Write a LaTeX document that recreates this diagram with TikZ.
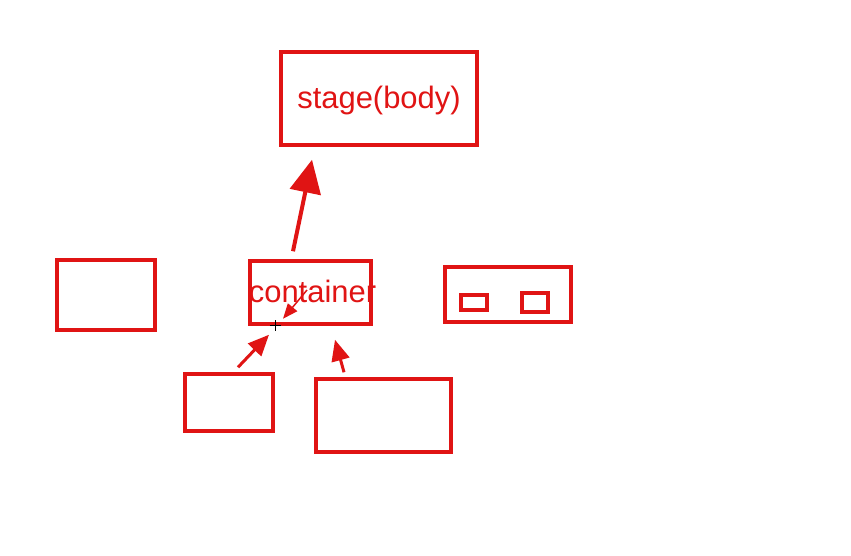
\documentclass[tikz,border=0pt]{standalone}
\usepackage{fontspec}
\setmainfont{Liberation Sans}
\usetikzlibrary{arrows.meta}
\definecolor{rougeVif}{RGB}{224,20,20}

\begin{document}
\begin{tikzpicture}
    		\tikzstyle{rougeCadre}=[draw=rougeVif, line width=0.07cm, inner sep=0pt]
    		\tikzstyle{texteRouge}=[text=rougeVif, font=\fontsize{17.6}{20}\selectfont, inner sep=0pt]
    		\tikzstyle{grosseFleche}=[rougeVif, line width=0.08cm, -{Triangle[length=0.66cm, width=0.62cm]}]
    		\tikzstyle{flecheRouge}=[rougeVif, line width=0.06cm, -{Triangle[length=0.42cm, width=0.36cm]}]
    		\tikzstyle{petiteFleche}=[rougeVif, line width=0.03cm, -{Triangle[length=0.3cm, width=0.24cm]}]

    		\useasboundingbox (0,0) rectangle (17.02,-11.1);
    		% upper area
    		\node [rougeCadre, minimum width=3.92cm, minimum height=1.86cm] (stage) at (7.58,-1.97) {};
    		\node [texteRouge, anchor=base] (stageTexte) at (7.58,-2.16) {stage(body)};
    		% middle row
    		\node [rougeCadre, minimum width=1.96cm, minimum height=1.4cm] (gauche) at (2.12,-5.9) {};
    		\node [rougeCadre, minimum width=2.42cm, minimum height=1.26cm] (container) at (6.21,-5.85) {};
    		\node [texteRouge, anchor=base] (containerTexte) at (6.25,-6.04) {container};
    		\node [rougeCadre, minimum width=2.52cm, minimum height=1.1cm] (droite) at (10.16,-5.89) {};
    		\node [rougeCadre, line width=0.065cm, minimum width=0.52cm, minimum height=0.3cm] (petitA) at (9.48,-6.05) {};
    		\node [rougeCadre, line width=0.065cm, minimum width=0.52cm, minimum height=0.38cm] (petitB) at (10.70,-6.05) {};
    		% lower row
    		\node [rougeCadre, minimum width=1.76cm, minimum height=1.14cm] (basGauche) at (4.58,-8.05) {};
    		\node [rougeCadre, minimum width=2.7cm, minimum height=1.46cm] (basDroite) at (7.67,-8.31) {};
    		% arrows
    		\draw [grosseFleche] ([xshift=-0.35cm, yshift=0.16cm]container.north) -- ([xshift=-1.34cm, yshift=-0.26cm]stage.south);
    		\draw [flecheRouge] ([xshift=0.18cm, yshift=0.1cm]basGauche.north) -- ([xshift=-0.83cm, yshift=-0.18cm]container.south);
    		\draw [flecheRouge] ([xshift=-0.79cm, yshift=0.1cm]basDroite.north) -- ([xshift=0.49cm, yshift=-0.28cm]container.south);
    		\draw [petiteFleche] ([xshift=-0.07cm, yshift=0.05cm]container.center) -- ([xshift=-0.55cm, yshift=0.14cm]container.south);
    		% cursor
    		\coordinate (curseur) at (5.5,-6.5);
    		\draw [black, line width=0.02cm] ([xshift=-0.11cm]curseur) -- ([xshift=0.11cm]curseur);
    		\draw [black, line width=0.02cm] ([yshift=-0.11cm]curseur) -- ([yshift=0.11cm]curseur);

		\end{tikzpicture}
\end{document}
